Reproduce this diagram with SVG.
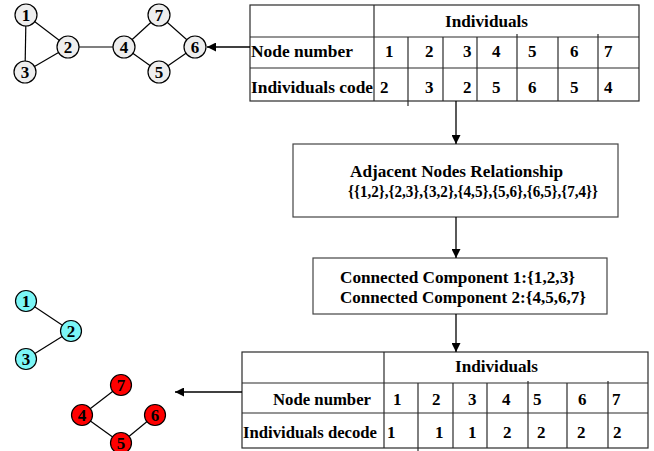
<svg xmlns="http://www.w3.org/2000/svg" width="654" height="451" viewBox="0 0 654 451">
  <defs>
    <marker id="arrow" viewBox="0 0 10 10" refX="10" refY="5" markerWidth="9" markerHeight="9" markerUnits="userSpaceOnUse" orient="auto">
      <path d="M0,0 L10,5 L0,10 z" fill="#000"/>
    </marker>
    <style>
      text { font-family: "Liberation Serif", "Times New Roman", serif; font-weight: bold; fill: #000; }
      .t15 { font-size: 17px; }
      .t16 { font-size: 17px; }
      .nd { font-size: 17px; text-anchor: middle; dominant-baseline: central; }
      .edge { stroke: #000; stroke-width: 1.2; fill: none; }
      .grey { fill: #eeeeee; stroke: #000; stroke-width: 1.2; }
      .cyan { fill: #7af6f6; stroke: #000; stroke-width: 1.2; }
      .red { fill: #ff0000; stroke: #000; stroke-width: 1.2; }
      .grid { stroke: #2a2a2a; stroke-width: 1.2; fill: none; }
      .box { stroke: #444; stroke-width: 1.2; fill: #fff; }
      .conn { stroke: #000; stroke-width: 1.3; fill: none; marker-end: url(#arrow); }
    </style>
  </defs>

  <!-- Original graph -->
  <g id="graph-top">
    <g class="edge">
      <line x1="26" y1="15" x2="68" y2="47"/>
      <line x1="26" y1="15" x2="25" y2="72"/>
      <line x1="25" y1="72" x2="68" y2="47"/>
      <line x1="68" y1="47" x2="124" y2="47"/>
      <line x1="124" y1="47" x2="159" y2="15"/>
      <line x1="159" y1="15" x2="195" y2="47"/>
      <line x1="195" y1="47" x2="159" y2="72"/>
      <line x1="159" y1="72" x2="124" y2="47"/>
    </g>
    <g id="t-node1"><circle class="grey" cx="26" cy="15" r="11"/><text class="nd" x="26" y="15">1</text></g>
    <g id="t-node2"><circle class="grey" cx="68" cy="47" r="11"/><text class="nd" x="68" y="47">2</text></g>
    <g id="t-node3"><circle class="grey" cx="25" cy="72" r="11"/><text class="nd" x="25" y="72">3</text></g>
    <g id="t-node4"><circle class="grey" cx="124" cy="47" r="11"/><text class="nd" x="124" y="47">4</text></g>
    <g id="t-node7"><circle class="grey" cx="159" cy="15" r="11"/><text class="nd" x="159" y="15">7</text></g>
    <g id="t-node6"><circle class="grey" cx="195" cy="47" r="11"/><text class="nd" x="195" y="47">6</text></g>
    <g id="t-node5"><circle class="grey" cx="159" cy="72" r="11"/><text class="nd" x="159" y="72">5</text></g>
  </g>

  <!-- Encoding table -->
  <g id="table-code">
    <rect class="grid" x="250" y="5" width="389" height="96"/>
    <line class="grid" x1="250" y1="37" x2="639" y2="37"/>
    <line class="grid" x1="250" y1="68" x2="639" y2="68"/>
    <line class="grid" x1="374" y1="5" x2="374" y2="101"/>
    <line class="grid" x1="408" y1="37" x2="408" y2="106"/>
    <line class="grid" x1="443" y1="37" x2="443" y2="101"/>
    <line class="grid" x1="477" y1="37" x2="477" y2="101"/>
    <line class="grid" x1="517" y1="34" x2="517" y2="101"/>
    <line class="grid" x1="558" y1="37" x2="558" y2="101"/>
    <line class="grid" x1="598" y1="34" x2="598" y2="101"/>
    <text class="t15" x="445" y="27" textLength="83" lengthAdjust="spacingAndGlyphs">Individuals</text>
    <text class="t15" x="251" y="57" textLength="102" lengthAdjust="spacingAndGlyphs">Node number</text>
    <text class="t15" x="251" y="93" textLength="122" lengthAdjust="spacingAndGlyphs">Individuals code</text>
    <g class="t15">
      <text x="385" y="57">1</text><text x="425" y="57">2</text><text x="463" y="57">3</text><text x="492" y="57">4</text><text x="528" y="57">5</text><text x="570" y="57">6</text><text x="604" y="57">7</text>
      <text x="380" y="93">2</text><text x="425" y="93">3</text><text x="463" y="93">2</text><text x="492" y="93">5</text><text x="528" y="93">6</text><text x="570" y="93">5</text><text x="604" y="93">4</text>
    </g>
  </g>

  <!-- Adjacency box -->
  <g id="box-adjacent">
    <rect class="box" x="293" y="144" width="325" height="73"/>
    <text class="t16" x="350" y="177" textLength="213" lengthAdjust="spacingAndGlyphs">Adjacent Nodes Relationship</text>
    <text class="t16" x="348" y="197" textLength="250" lengthAdjust="spacingAndGlyphs">{{1,2},{2,3},{3,2},{4,5},{5,6},{6,5},{7,4}}</text>
  </g>

  <!-- Components box -->
  <g id="box-components">
    <rect class="box" x="313" y="258" width="294" height="56"/>
    <text class="t16" x="340" y="283" textLength="235" lengthAdjust="spacingAndGlyphs">Connected Component 1:{1,2,3}</text>
    <text class="t16" x="340" y="303" textLength="246" lengthAdjust="spacingAndGlyphs">Connected Component 2:{4,5,6,7}</text>
  </g>

  <!-- Decoding table -->
  <g id="table-decode">
    <rect class="grid" x="242" y="352" width="406" height="96"/>
    <line class="grid" x1="242" y1="383" x2="648" y2="383"/>
    <line class="grid" x1="242" y1="413" x2="648" y2="413"/>
    <line class="grid" x1="384" y1="352" x2="384" y2="448"/>
    <line class="grid" x1="418" y1="383" x2="418" y2="451"/>
    <line class="grid" x1="453" y1="383" x2="453" y2="448"/>
    <line class="grid" x1="487" y1="383" x2="487" y2="448"/>
    <line class="grid" x1="528" y1="381" x2="528" y2="448"/>
    <line class="grid" x1="567" y1="383" x2="567" y2="448"/>
    <line class="grid" x1="608" y1="381" x2="608" y2="448"/>
    <text class="t15" x="455" y="372" textLength="83" lengthAdjust="spacingAndGlyphs">Individuals</text>
    <text class="t15" x="273" y="405" textLength="98" lengthAdjust="spacingAndGlyphs">Node number</text>
    <text class="t15" x="243" y="438" textLength="134" lengthAdjust="spacingAndGlyphs">Individuals decode</text>
    <g class="t15">
      <text x="393" y="405">1</text><text x="432" y="405">2</text><text x="468" y="405">3</text><text x="502" y="405">4</text><text x="533" y="405">5</text><text x="578" y="405">6</text><text x="612" y="405">7</text>
      <text x="387" y="438">1</text><text x="435" y="438">1</text><text x="468" y="438">1</text><text x="503" y="438">2</text><text x="537" y="438">2</text><text x="577" y="438">2</text><text x="613" y="438">2</text>
    </g>
  </g>

  <!-- Decoded components -->
  <g id="graph-cyan">
    <g class="edge">
      <line x1="26" y1="301" x2="71" y2="331"/>
      <line x1="71" y1="331" x2="26" y2="359"/>
    </g>
    <g id="c-node1"><circle class="cyan" cx="26" cy="301" r="10.5"/><text class="nd" x="26" y="301">1</text></g>
    <g id="c-node2"><circle class="cyan" cx="71" cy="331" r="10.5"/><text class="nd" x="71" y="331">2</text></g>
    <g id="c-node3"><circle class="cyan" cx="26" cy="359" r="10.5"/><text class="nd" x="26" y="359">3</text></g>
  </g>
  <g id="graph-red">
    <g class="edge">
      <line x1="121" y1="385" x2="82" y2="415"/>
      <line x1="82" y1="415" x2="121" y2="443"/>
      <line x1="121" y1="443" x2="155" y2="415"/>
    </g>
    <g id="r-node7"><circle class="red" cx="121" cy="385" r="10.5"/><text class="nd" x="121" y="385">7</text></g>
    <g id="r-node4"><circle class="red" cx="82" cy="415" r="10.5"/><text class="nd" x="82" y="415">4</text></g>
    <g id="r-node6"><circle class="red" cx="155" cy="415" r="10.5"/><text class="nd" x="155" y="415">6</text></g>
    <g id="r-node5"><circle class="red" cx="121" cy="443" r="10.5"/><text class="nd" x="121" y="443">5</text></g>
  </g>

  <!-- Connectors -->
  <g id="connectors">
    <line class="conn" x1="250" y1="47" x2="207" y2="47"/>
    <line class="conn" x1="456" y1="101" x2="456" y2="144"/>
    <line class="conn" x1="456" y1="217" x2="456" y2="258"/>
    <line class="conn" x1="456" y1="314" x2="456" y2="352"/>
    <line class="conn" x1="242" y1="392" x2="175" y2="392"/>
  </g>
</svg>
